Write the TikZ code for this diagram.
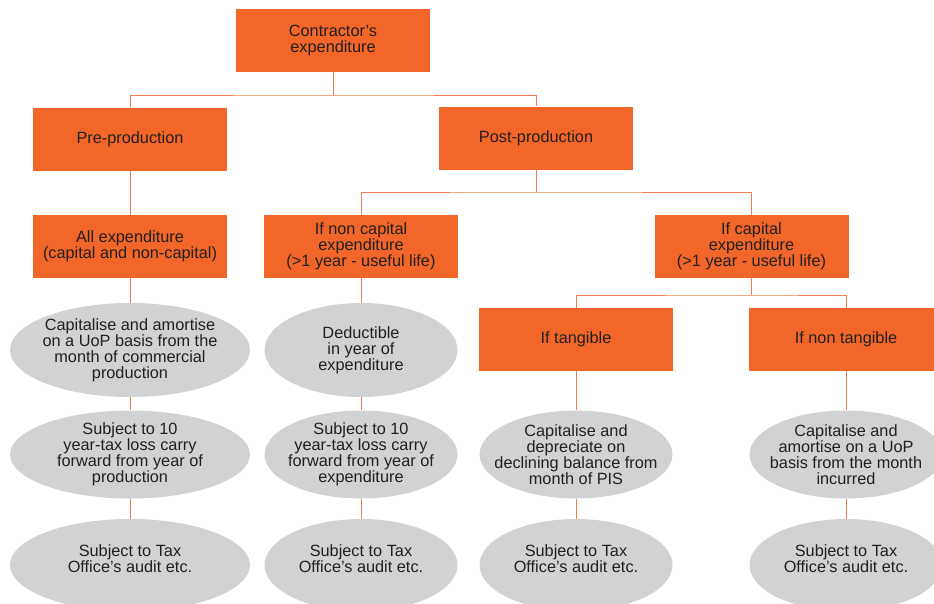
\documentclass[tikz,border=0pt]{standalone}
\usepackage{fontspec}
\setmainfont{Liberation Sans}
\usetikzlibrary{shapes.geometric}
\definecolor{pwcorange}{HTML}{F26729}
\definecolor{linkorange}{HTML}{F27D4A}
\definecolor{ovalgrey}{HTML}{D1D2D4}
\definecolor{inkdark}{HTML}{231F20}
\tikzset{
  txt/.style={text=inkdark, align=center, font=\fontsize{16.3}{16}\selectfont, inner sep=0pt},
  boxnode/.style={txt, fill=pwcorange, minimum width=194pt, minimum height=63pt, inner sep=0pt},
  oval/.style 2 args={ellipse, fill=ovalgrey, minimum width=#1pt, minimum height=#2pt, inner sep=0pt},
  link/.style={draw=linkorange, line width=1pt}
}
\begin{document}
\begin{tikzpicture}[x=1pt,y=-1pt]
\useasboundingbox (0,0) rectangle (934,603);
\clip (0,0) rectangle (934,603);

% decision boxes
\node[boxnode] (top)    at (333,40.5)  {Contractor’s\\expenditure};
\node[boxnode] (pre)    at (130,139)   {Pre-production};
\node[boxnode] (post)   at (536,138)   {Post-production};
\node[boxnode] (allexp) at (130,246.5) {All expenditure\\(capital and non-capital)};
\node[boxnode] (noncap) at (361,246.5) {If non capital\\expenditure\\(>1 year - useful life)};
\node[boxnode] (cap)    at (751.5,246.5) {If capital\\expenditure\\(>1 year - useful life)};
\node[boxnode] (tang)   at (576,339.5) {If tangible};
\node[boxnode] (ntang)  at (846,339.5) {If non tangible};

% treatment ovals (text carried as centred labels)
\node[oval={240}{94}, label={[txt]center:{Capitalise and amortise\\on a UoP basis from the\\month of commercial\\production}}] (e1) at (130,350) {};
\node[oval={240}{88}, label={[txt]center:{Subject to 10\\year-tax loss carry\\forward from year of\\production}}] (e2) at (130,454.5) {};
\node[oval={240}{92}, label={[txt,yshift=6pt]center:{Subject to Tax\\Office’s audit etc.}}] (e3) at (130,565) {};

\node[oval={193}{94}, label={[txt]center:{Deductible\\in year of\\expenditure}}] (m1) at (361,350) {};
\node[oval={193}{88}, label={[txt]center:{Subject to 10\\year-tax loss carry\\forward from year of\\expenditure}}] (m2) at (361,454.5) {};
\node[oval={193}{92}, label={[txt,yshift=6pt]center:{Subject to Tax\\Office’s audit etc.}}] (m3) at (361,565) {};

\node[oval={193}{88}, label={[txt]center:{Capitalise and\\depreciate on\\declining balance from\\month of PIS}}] (t1) at (576,454.5) {};
\node[oval={193}{92}, label={[txt,yshift=6pt]center:{Subject to Tax\\Office’s audit etc.}}] (t2) at (576,565) {};

\node[oval={193}{88}, label={[txt]center:{Capitalise and\\amortise on a UoP\\basis from the month\\incurred}}] (n1) at (846,454.5) {};
\node[oval={193}{92}, label={[txt,yshift=6pt]center:{Subject to Tax\\Office’s audit etc.}}] (n2) at (846,565) {};

% bus levels of the branching connectors
\coordinate (bus1) at (0,95);
\coordinate (bus2) at (0,192);
\coordinate (bus3) at (0,295);

% branching connectors
\draw[link] (top.south) -- (bus1 -| top.south);
\draw[link] (pre.north) |- (bus1 -| top.south) -| (post.north);
\draw[link] (post.south) -- (bus2 -| post.south);
\draw[link] (noncap.north) |- (bus2 -| post.south) -| (cap.north);
\draw[link] (cap.south) -- (bus3 -| cap.south);
\draw[link] (tang.north) |- (bus3 -| cap.south) -| (ntang.north);

% straight column connectors
\draw[link] (pre.south) -- (allexp.north);
\draw[link] (allexp.south) -- (e1.north);
\draw[link] (e1.south) -- (e2.north);
\draw[link] (e2.south) -- (e3.north);
\draw[link] (noncap.south) -- (m1.north);
\draw[link] (m1.south) -- (m2.north);
\draw[link] (m2.south) -- (m3.north);
\draw[link] (tang.south) -- (t1.north);
\draw[link] (t1.south) -- (t2.north);
\draw[link] (ntang.south) -- (n1.north);
\draw[link] (n1.south) -- (n2.north);
\end{tikzpicture}
\end{document}
